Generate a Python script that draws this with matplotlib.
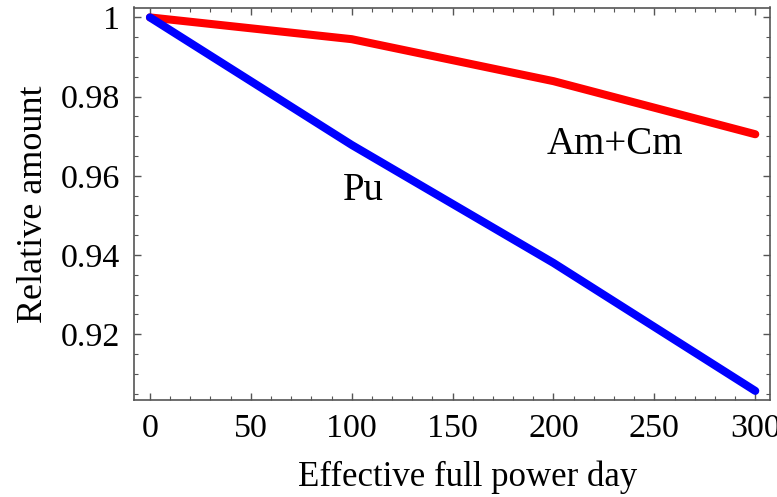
import matplotlib
matplotlib.use("Agg")
import matplotlib.pyplot as plt
from matplotlib.ticker import MultipleLocator

plt.rcParams['font.family'] = ['Liberation Serif', 'DejaVu Serif']

days = [0, 100, 200, 300]
pu = [1.0, 0.9678, 0.938, 0.9057]
amcm = [1.0, 0.9945, 0.9839, 0.9705]

fig = plt.figure(figsize=(7.77, 4.97), dpi=100)
ax = fig.add_axes([134 / 777, 1 - 400 / 497, (770 - 134) / 777, (400 - 7.5) / 497])

ax.plot(days, amcm, color='#ff0000', lw=5.8, solid_capstyle='round', solid_joinstyle='round')
ax.plot(days, pu, color='#0000ff', lw=5.8, solid_capstyle='round', solid_joinstyle='round')

ax.text(105.5, 0.9564, 'Pu', fontsize=28, ha='center', va='center')
ax.text(230.5, 0.9678, 'Am+Cm', fontsize=28, ha='center', va='center')

ax.set_xlim(-7.9, 7.3 + 300)
ax.set_ylim(0.9034, 1.0025)
ax.xaxis.set_major_locator(MultipleLocator(50))
ax.xaxis.set_minor_locator(MultipleLocator(10))
ax.yaxis.set_minor_locator(MultipleLocator(0.005))
ax.set_yticks([0.92, 0.94, 0.96, 0.98, 1.0])
ax.set_yticklabels(['0.92', '0.94', '0.96', '0.98', '1'])

for s in ax.spines.values():
    s.set_color('#555555')
    s.set_linewidth(1.2)
ax.tick_params(which='both', direction='in', top=True, right=True, colors='#555555',
               labelcolor='black', labelsize=24.5)
ax.tick_params(which='major', length=5, width=1)
ax.tick_params(which='minor', length=3, width=0.8)
ax.tick_params(axis='x', pad=10)
ax.tick_params(axis='y', pad=10)

ax.set_xlabel('Effective full power day', fontsize=25)
ax.xaxis.set_label_coords(0.525, -0.155)
ax.set_ylabel('Relative amount', fontsize=26, labelpad=8)

fig.savefig('out.png', dpi=100)
